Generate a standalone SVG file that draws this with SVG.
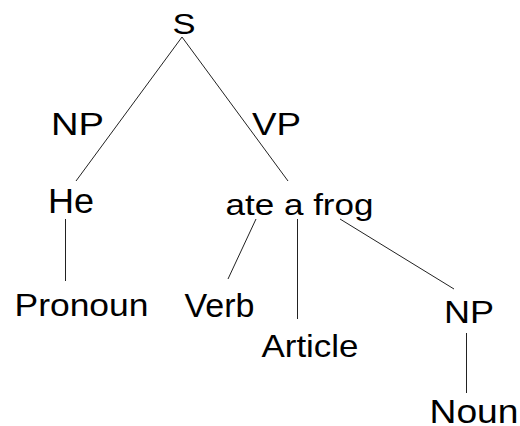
<svg xmlns="http://www.w3.org/2000/svg" width="520" height="426" viewBox="0 0 520 426">
<style>
text{font-family:"Liberation Sans",Arial,sans-serif;fill:#000;text-anchor:middle}
.c line{stroke:#222;stroke-width:1;fill:none}
</style>
<rect width="520" height="426" fill="#fff"/>
<g id="connectors" class="c">
<line x1="182" y1="37" x2="76" y2="181"/>
<line x1="182" y1="37" x2="288" y2="181"/>
<line x1="65.5" y1="219" x2="65.5" y2="281"/>
<line x1="256" y1="219" x2="228" y2="279"/>
<line x1="297.5" y1="219" x2="297.5" y2="319"/>
<line x1="340" y1="219" x2="454" y2="289"/>
<line x1="466.5" y1="333" x2="466.5" y2="393"/>
</g>
<g id="node-S"><text x="184" y="34" font-size="29" textLength="23" lengthAdjust="spacingAndGlyphs">S</text></g>
<g id="label-NP"><text x="77.5" y="135" font-size="31" textLength="53" lengthAdjust="spacingAndGlyphs">NP</text></g>
<g id="label-VP"><text x="276.5" y="135" font-size="31" textLength="49" lengthAdjust="spacingAndGlyphs">VP</text></g>
<g id="node-He"><text x="71" y="213" font-size="35" textLength="46" lengthAdjust="spacingAndGlyphs">He</text></g>
<g id="node-ate"><text x="299.5" y="215" font-size="30" textLength="148" lengthAdjust="spacingAndGlyphs">ate a frog</text></g>
<g id="node-Pronoun"><text x="81.5" y="316" font-size="32" textLength="134" lengthAdjust="spacingAndGlyphs">Pronoun</text></g>
<g id="node-Verb"><text x="219.5" y="317" font-size="33" textLength="70" lengthAdjust="spacingAndGlyphs">Verb</text></g>
<g id="node-Article"><text x="310" y="357" font-size="32" textLength="97" lengthAdjust="spacingAndGlyphs">Article</text></g>
<g id="node-NP2"><text x="469" y="323" font-size="32" textLength="50" lengthAdjust="spacingAndGlyphs">NP</text></g>
<g id="node-Noun"><text x="474" y="423" font-size="33" textLength="89" lengthAdjust="spacingAndGlyphs">Noun</text></g>
</svg>
